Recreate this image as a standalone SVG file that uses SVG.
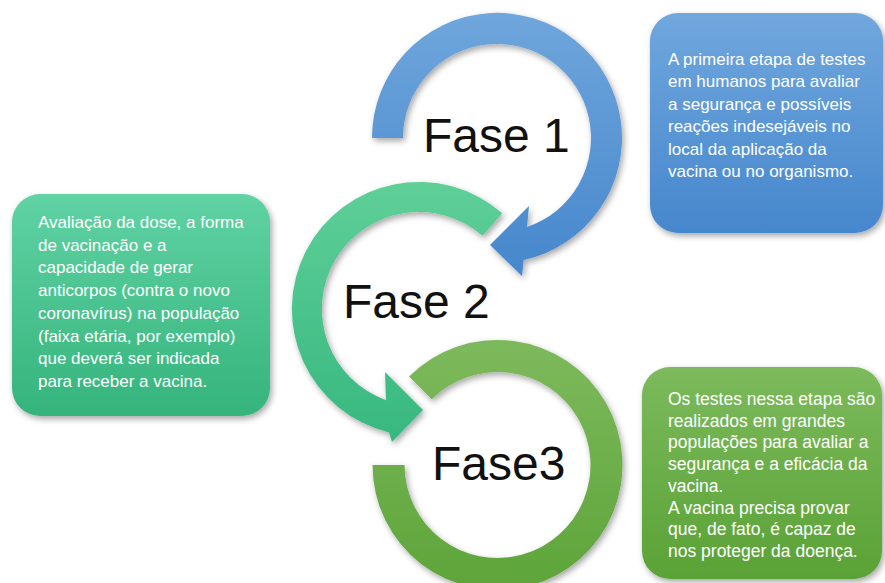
<svg xmlns="http://www.w3.org/2000/svg" width="885" height="583" viewBox="0 0 885 583">
<defs>
<linearGradient id="gBlue" x1="0" y1="0" x2="0" y2="1"><stop offset="0" stop-color="#70a7dd"/><stop offset="1" stop-color="#4687cd"/></linearGradient>
<linearGradient id="gTeal" x1="0" y1="0" x2="0" y2="1"><stop offset="0" stop-color="#60d2a4"/><stop offset="1" stop-color="#35b47c"/></linearGradient>
<linearGradient id="gGreen" x1="0" y1="0" x2="0" y2="1"><stop offset="0" stop-color="#7cba5c"/><stop offset="1" stop-color="#5aa236"/></linearGradient>
<linearGradient id="rBlue" gradientUnits="userSpaceOnUse" x1="0" y1="13" x2="0" y2="276"><stop offset="0" stop-color="#6fa6dc"/><stop offset="1" stop-color="#4687cc"/></linearGradient>
<linearGradient id="rTeal" gradientUnits="userSpaceOnUse" x1="0" y1="182" x2="0" y2="442"><stop offset="0" stop-color="#5fcf98"/><stop offset="1" stop-color="#37b87f"/></linearGradient>
<linearGradient id="rGreen" gradientUnits="userSpaceOnUse" x1="0" y1="343" x2="0" y2="583"><stop offset="0" stop-color="#7db95c"/><stop offset="1" stop-color="#5ea53a"/></linearGradient>
<filter id="sh" x="-20%" y="-20%" width="140%" height="140%"><feDropShadow dx="2" dy="3" stdDeviation="3" flood-color="#000" flood-opacity="0.35"/></filter>
</defs>
<style>
.lbl{font-family:"Liberation Sans",Arial,sans-serif;font-size:48px;fill:#111}
.bt{font-family:"Liberation Sans",Arial,sans-serif;font-size:17px;fill:#fff}
</style>
<rect width="885" height="583" fill="#fff"/>
<g id="connectors">
<path id="ring3" filter="url(#sh)" fill="url(#rGreen)" d="M 372.5 465 A 125 125 0 1 0 409.1 376.6 L 431.7 399.2 A 93 93 0 1 1 404.5 465 Z"/>
<path id="ring2" filter="url(#sh)" fill="url(#rTeal)" d="M 502.3 213.2 A 127 127 0 1 0 389 432.4 L 392 442 L 423 410 L 385 372 L 386 400.2 A 97 97 0 1 1 482.6 235.8 Z"/>
<path id="ring1" filter="url(#sh)" fill="url(#rBlue)" d="M 372 138 A 125 125 0 1 1 523.6 260 L 522 276 L 490 245 L 529 206 L 527 227 A 94 94 0 1 0 403 138 Z"/>
</g>
<g id="fase1"><text class="lbl" x="423" y="152">Fase 1</text></g>
<g id="fase2"><text class="lbl" x="343" y="318">Fase 2</text></g>
<g id="fase3"><text class="lbl" x="432" y="480">Fase3</text></g>
<g id="box1">
<rect x="650" y="13" width="233" height="220" rx="28" fill="url(#gBlue)" filter="url(#sh)"/>
<text class="bt"><tspan x="668" y="65">A primeira etapa de testes</tspan><tspan x="668" y="87.4">em humanos para avaliar</tspan><tspan x="668" y="109.8">a segurança e possíveis</tspan><tspan x="668" y="132.2">reações indesejáveis no</tspan><tspan x="668" y="154.6">local da aplicação da</tspan><tspan x="668" y="177">vacina ou no organismo.</tspan></text>
</g>
<g id="box2">
<rect x="12" y="194" width="258" height="222" rx="28" fill="url(#gTeal)" filter="url(#sh)"/>
<text class="bt"><tspan x="38" y="228">Avaliação da dose, a forma</tspan><tspan x="38" y="250.7">de vacinação e a</tspan><tspan x="38" y="273.4">capacidade de gerar</tspan><tspan x="38" y="296.1">anticorpos (contra o novo</tspan><tspan x="38" y="318.8">coronavírus) na população</tspan><tspan x="38" y="341.5">(faixa etária, por exemplo)</tspan><tspan x="38" y="364.2">que deverá ser indicada</tspan><tspan x="38" y="387">para receber a vacina.</tspan></text>
</g>
<g id="box3">
<rect x="642" y="367" width="240" height="212" rx="28" fill="url(#gGreen)" filter="url(#sh)"/>
<text class="bt" style="font-size:17.5px"><tspan x="668" y="405">Os testes nessa etapa são</tspan><tspan x="668" y="426.7">realizados em grandes</tspan><tspan x="668" y="448.4">populações para avaliar a</tspan><tspan x="668" y="470.1">segurança e a eficácia da</tspan><tspan x="668" y="491.8">vacina.</tspan><tspan x="668" y="513.5">A vacina precisa provar</tspan><tspan x="668" y="535.2">que, de fato, é capaz de</tspan><tspan x="668" y="557">nos proteger da doença.</tspan></text>
</g>
</svg>
